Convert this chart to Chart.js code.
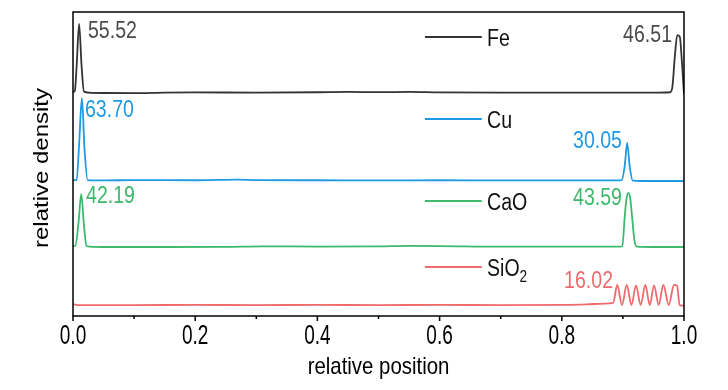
<!DOCTYPE html>
<html>
<head>
<meta charset="utf-8">
<script src="https://cdn.jsdelivr.net/npm/chart.js@4.4.1/dist/chart.umd.min.js"></script>
<style>
  html, body { margin: 0; padding: 0; background: #fff; }
  #wrap { width: 728px; height: 390px; }
</style>
</head>
<body>
<div id="wrap"><canvas id="density"></canvas></div>
<script>
// relative position (x) and relative density above each trace's baseline
const xFe = [0, 0.003, 0.006, 0.010, 0.014, 0.018, 0.03, 0.10, 0.15, 0.20, 0.30, 0.40, 0.45, 0.50, 0.55, 0.60, 0.70, 0.80, 0.90, 0.95, 0.977, 0.981, 0.985, 0.989, 0.993, 0.997, 1.0]
const fe  = [0.3, 0.6, 9, 22.7, 9, 0.4, 0, -0.1, 0.1, 0.15, 0.1, 0.2, 0.3, 0.25, 0.3, 0.15, 0.1, 0.1, 0.05, 0.05, 0.2, 2, 12, 19, 18.5, 9, -0.5]

const xCu = [0, 0.006, 0.010, 0.0145, 0.019, 0.024, 0.05, 0.10, 0.20, 0.27, 0.30, 0.40, 0.50, 0.60, 0.70, 0.80, 0.89, 0.898, 0.903, 0.907, 0.911, 0.916, 0.93, 1.0]
const cu  = [0.3, 0.3, 12, 27.3, 10, 0.3, 0.2, 0.3, 0.25, 0.45, 0.3, 0.25, 0.2, 0.25, 0.2, 0.2, 0.2, 0.3, 5, 12.5, 5, 0.1, 0, 0]

const xCaO = [0, 0.004, 0.009, 0.0135, 0.018, 0.022, 0.05, 0.15, 0.25, 0.31, 0.40, 0.50, 0.55, 0.60, 0.70, 0.80, 0.89, 0.899, 0.903, 0.906, 0.909, 0.912, 0.915, 0.919, 0.923, 0.95, 1.0]
const cao  = [0.3, 0.4, 8, 17.4, 7, 0.3, 0, 0, 0.05, 0.2, 0.15, 0.2, 0.35, 0.3, 0.1, 0.15, 0.1, 0.2, 10, 16, 17.8, 16, 10, 2, 0.1, 0, 0]

const xSiO2 = [0, 0.01, 0.1, 0.2, 0.3, 0.4, 0.5, 0.6, 0.7, 0.8, 0.84, 0.87, 0.884, 0.8908, 0.8985, 0.9063, 0.914, 0.9215, 0.929, 0.9367, 0.944, 0.951, 0.9585, 0.9662, 0.975, 0.9836, 0.9885, 0.993, 1.0]
const sio2  = [0.3, 0, 0, 0.05, 0, 0.05, 0, 0.05, 0, 0.05, 0.2, 0.5, 0.7, 6.6, 0, 6.6, 0, 6.5, 0, 6.6, 0, 6.5, 0, 6.6, 0, 6.6, 6.4, 0, -0.2]

// vertical offsets used to stack the traces
const offsets = [73.4, 44.4, 22.7, 3.6]
const names = ['Fe', 'Cu', 'CaO', 'SiO2']
const colors = ['#333333', '#1e9ae4', '#3cb96c', '#ef6a6c']

const majorTicks = [0, 0.2, 0.4, 0.6, 0.8, 1.0]
const tickLabels = ['0.0', '0.2', '0.4', '0.6', '0.8', '1.0']
const minorTicks = [0.1, 0.3, 0.5, 0.7, 0.9]

// peak values printed next to the peaks
const peakText = [['55.52', '46.51'], ['63.70', '30.05'], ['42.19', '43.59'], [null, '16.02']]

const series = [[xFe, fe], [xCu, cu], [xCaO, cao], [xSiO2, sio2]]

const FONT = '"Liberation Sans", Arial, sans-serif'
const SX = 0.85

function squeezedText(ctx, str, x, y, align, size, color, sx = SX) {
  ctx.save()
  ctx.translate(x, y)
  ctx.scale(sx, 1)
  ctx.font = `${size}px ${FONT}`
  ctx.fillStyle = color
  ctx.textAlign = align
  ctx.textBaseline = 'alphabetic'
  ctx.fillText(str, 0, 0)
  ctx.restore()
}

const decor = {
  id: 'decor',
  afterDraw(chart) {
    const { ctx, chartArea: a, scales: { x, y } } = chart
    ctx.save()
    // frame
    ctx.strokeStyle = '#000'
    ctx.lineWidth = 1.5
    ctx.strokeRect(a.left, a.top, a.right - a.left, a.bottom - a.top)
    // ticks
    ctx.beginPath()
    majorTicks.forEach(v => {
      const px = x.getPixelForValue(v)
      ctx.moveTo(px, a.bottom)
      ctx.lineTo(px, a.bottom + 5)
    })
    minorTicks.forEach(v => {
      const px = x.getPixelForValue(v)
      ctx.moveTo(px, a.bottom)
      ctx.lineTo(px, a.bottom + 3)
    })
    ctx.stroke()
    majorTicks.forEach((v, i) => {
      squeezedText(ctx, tickLabels[i], x.getPixelForValue(v), a.bottom + 28, 'center', 28, '#000', 0.68)
    })
    squeezedText(ctx, 'relative position', (a.left + a.right) / 2, a.bottom + 58, 'center', 24, '#000')

    // y title
    ctx.save()
    ctx.translate(48, (a.top + a.bottom) / 2 + 4)
    ctx.scale(SX, 1)
    ctx.rotate(-Math.PI / 2)
    ctx.font = `24px ${FONT}`
    ctx.fillStyle = '#000'
    ctx.textAlign = 'center'
    ctx.fillText('relative density', 0, 0)
    ctx.restore()

    // legend next to each trace
    const legendY = [91.8, 64.8, 37.8, 16.1]
    names.forEach((n, i) => {
      const ly = y.getPixelForValue(legendY[i])
      ctx.strokeStyle = colors[i]
      ctx.lineWidth = 2
      ctx.beginPath()
      ctx.moveTo(x.getPixelForValue(0.576), ly)
      ctx.lineTo(x.getPixelForValue(0.669), ly)
      ctx.stroke()
      const tx = x.getPixelForValue(0.6776)
      if (n === 'SiO2') {
        squeezedText(ctx, 'SiO', tx, ly + 9, 'left', 23, '#111')
        ctx.font = `23px ${FONT}`
        const w = ctx.measureText('SiO').width * SX
        squeezedText(ctx, '2', tx + w, ly + 15, 'left', 16, '#111')
      } else {
        squeezedText(ctx, n, tx, ly + 9, 'left', 23, '#111')
      }
    })

    // peak values
    const labelPos = [
      [[0.0245, 91.3], [0.9804, 90.1]],
      [[0.0196, 65.5], [0.8985, 55.3]],
      [[0.0213, 37.2], [0.8985, 36.5]],
      [null, [0.8838, 9.2]]
    ]
    const textColors = ['#4a4a4a', colors[1], colors[2], colors[3]]
    peakText.forEach((pair, i) => {
      pair.forEach((t, j) => {
        if (!t) return
        const [vx, vy] = labelPos[i][j]
        squeezedText(ctx, t, x.getPixelForValue(vx), y.getPixelForValue(vy), j === 0 ? 'left' : 'right', 23, textColors[i])
      })
    })
    ctx.restore()
  }
}

new Chart(document.getElementById('density'), {
  type: 'line',
  data: {
    datasets: series.map(([xs, vs], i) => ({
      label: names[i],
      data: xs.map((v, k) => ({ x: v, y: vs[k] + offsets[i] })),
      borderColor: colors[i],
      borderWidth: 1.8,
      pointRadius: 0,
      cubicInterpolationMode: 'monotone',
      fill: false
    }))
  },
  options: {
    responsive: true,
    maintainAspectRatio: false,
    animation: false,
    layout: { padding: { left: 73, right: 44, top: 12, bottom: 74 } },
    plugins: { legend: { display: false }, tooltip: { enabled: false } },
    scales: {
      x: { type: 'linear', min: 0, max: 1, display: false },
      y: { type: 'linear', min: 0, max: 100, display: false }
    }
  },
  plugins: [decor]
})
</script>
</body>
</html>
